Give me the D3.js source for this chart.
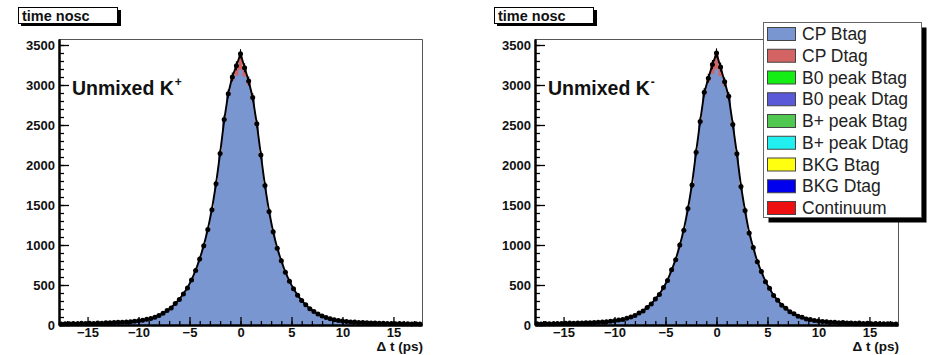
<!DOCTYPE html>
<html>
<head>
<meta charset="utf-8">
<script src="https://cdn.jsdelivr.net/npm/d3@7"></script>
<style>
  html, body { margin: 0; padding: 0; background: #fff; }
  svg { display: block; font-family: "Liberation Sans", Arial, Helvetica, sans-serif; }
</style>
</head>
<body>
<svg id="chart" width="931" height="355"></svg>
<script>
// ---------------- DATA ----------------
// 89 bins of 0.4 ps, centres from -17.6 to 17.6
const binCenters = d3.range(-44, 45).map(k => +(k * 0.4).toFixed(1));
const binWidth = 0.4;

const dataKplus = [
  14,17,15,19,16,21,18,22,20,25, 23,27,28,30,33,34,38,41,47,52,
  60,71,82,97,120,146,180,213,268,318, 388,462,562,682,824,992,1195,1440,1765,2145,
  2570,2890,3100,3240, 3390,
  3215,3050,2845,2515,2125, 1745,1420,1165,958,802, 660,548,452,372,306,
  252,204,170,138,113, 94,77,67,56,50, 45,39,36,32,30,
  29,25,26,22,23, 19,20,17,18,15, 16,14,15,13
];
const cpBtagKplus = [
  15,16,16,17,18,19,20,21,22,23, 24,26,27,29,31,33,36,40,45,51,
  59,70,82,98,119,146,179,218,266,322, 390,466,563,683,825,995,1198,1448,1765,2135,
  2545,2870,3055,3120, 3190,
  3105,3000,2815,2500,2115, 1740,1420,1163,960,800, 662,548,452,373,306,
  251,205,168,138,114, 94,78,66,57,50, 44,39,35,32,30,
  28,26,24,23,21, 20,19,18,17,16, 15,15,14,14
];
const cpDtagKplus = [
  0,0,0,0,0,0,0,0,0,0, 0,0,0,0,0,0,0,0,0,0,
  0,0,0,0,0,0,0,0,0,0, 0,0,0,0,0,0,0,0,0,10,
  15,25,50,120, 200,
  115,50,25,15,10, 0,0,0,0,0, 0,0,0,0,0,
  0,0,0,0,0, 0,0,0,0,0, 0,0,0,0,0,
  0,0,0,0,0, 0,0,0,0,0, 0,0,0,0
];

const dataKminus = [
  16,14,18,15,17,20,19,21,24,22, 26,25,29,28,32,35,37,42,46,53,
  61,69,84,99,118,149,176,220,262,325, 382,470,556,690,815,1000,1185,1455,1750,2160,
  2545,2910,3085,3255, 3400,
  3225,3040,2860,2505,2140, 1730,1430,1150,970,790, 670,540,458,368,310,
  246,208,166,141,110, 96,75,68,55,51, 44,40,34,33,29,
  30,26,25,22,24, 19,21,17,18,16, 15,16,13,14
];
const cpBtagKminus = [
  15,16,17,17,18,19,20,21,22,23, 25,26,28,29,31,34,37,41,46,52,
  60,70,83,99,120,147,178,218,265,323, 388,466,562,685,820,995,1195,1450,1760,2150,
  2535,2880,3040,3140, 3200,
  3110,2990,2830,2490,2130, 1735,1425,1155,965,795, 665,545,455,370,307,
  250,206,168,139,113, 94,77,66,56,50, 44,39,35,32,30,
  28,26,24,23,21, 20,19,18,17,16, 15,15,14,14
];
const cpDtagKminus = [
  0,0,0,0,0,0,0,0,0,0, 0,0,0,0,0,0,0,0,0,0,
  0,0,0,0,0,0,0,0,0,0, 0,0,0,0,0,0,0,0,0,10,
  15,25,45,115, 195,
  110,50,25,15,10, 0,0,0,0,0, 0,0,0,0,0,
  0,0,0,0,0, 0,0,0,0,0, 0,0,0,0,0,
  0,0,0,0,0, 0,0,0,0,0, 0,0,0,0
];

const xTicks = [-15, -10, -5, 0, 5, 10, 15];
const yTicks = [0, 500, 1000, 1500, 2000, 2500, 3000, 3500];
const xDomain = [-17.8, 17.8];
const yDomain = [0, 3575];

const panelTitle = "time nosc";
const panelLabels = [["Unmixed K", "+"], ["Unmixed K", "-"]];
const xAxisTitle = "\u0394 t (ps)";

const legendLabels = ["CP Btag", "CP Dtag", "B0 peak Btag", "B0 peak Dtag",
  "B+ peak Btag", "B+ peak Dtag", "BKG Btag", "BKG Dtag", "Continuum"];
const legendColors = ["#7a96d0", "#d46464", "#14ee14", "#5a5ad8",
  "#50c850", "#22f0f0", "#ffff10", "#0000ee", "#ee1010"];

// ---------------- DRAW ----------------
const svg = d3.select("#chart");

const panels = [
  { dx: 0, data: dataKplus, cpB: cpBtagKplus, cpD: cpDtagKplus, label: panelLabels[0] },
  { dx: 476, data: dataKminus, cpB: cpBtagKminus, cpD: cpDtagKminus, label: panelLabels[1] }
];

const frame = { left: 59, right: 422, top: 39, bottom: 325 };

panels.forEach(p => {
  const g = svg.append("g").attr("transform", `translate(${p.dx},0)`);
  const x = d3.scaleLinear().domain(xDomain).range([frame.left, frame.right]);
  const y = d3.scaleLinear().domain(yDomain).range([frame.bottom, frame.top]);

  // title box
  const tb = g.append("g");
  tb.append("rect").attr("x", 21).attr("y", 10).attr("width", 100).attr("height", 16).attr("fill", "#000");
  tb.append("rect").attr("x", 18.5).attr("y", 7.5).attr("width", 99).attr("height", 16)
    .attr("fill", "#fff").attr("stroke", "#000").attr("stroke-width", 1);
  tb.append("text").attr("x", 22).attr("y", 20.5).attr("font-size", 14.5).attr("font-weight", "bold")
    .attr("fill", "#111").text(panelTitle);

  // frame (top & right)
  g.append("path")
    .attr("d", `M${frame.left},${frame.top + 0.5}H${frame.right + 0.5}V${frame.bottom}`)
    .attr("fill", "none").attr("stroke", "#555").attr("stroke-width", 1);

  // stacked histogram (step)
  function stepPts(vals) {
    const pts = [];
    vals.forEach((v, i) => {
      pts.push([binCenters[i] - binWidth / 2, v]);
      pts.push([binCenters[i] + binWidth / 2, v]);
    });
    return pts;
  }
  const totals = p.cpB.map((v, i) => v + p.cpD[i]);
  const area0 = d3.area().x(d => x(d[0])).y0(y(0)).y1(d => y(d[1]));
  g.append("path").attr("d", area0(stepPts(totals))).attr("fill", legendColors[1]);
  g.append("path").attr("d", area0(stepPts(p.cpB))).attr("fill", legendColors[0]);

  // fit line (total)
  const line = d3.line().x((d, i) => x(binCenters[i])).y(d => y(d));
  g.append("path").attr("d", line(totals)).attr("fill", "none")
    .attr("stroke", "#000").attr("stroke-width", 1.9);

  // data points with errors
  const pts = g.append("g");
  p.data.forEach((v, i) => {
    const cx = x(binCenters[i]);
    const e = Math.sqrt(v);
    pts.append("line").attr("x1", cx).attr("x2", cx).attr("y1", y(v - e)).attr("y2", y(v + e))
      .attr("stroke", "#000").attr("stroke-width", 1.1);
    pts.append("line").attr("x1", x(binCenters[i] - binWidth / 2)).attr("x2", x(binCenters[i] + binWidth / 2))
      .attr("y1", y(v)).attr("y2", y(v)).attr("stroke", "#000").attr("stroke-width", 1.1);
    pts.append("circle").attr("cx", cx).attr("cy", y(v)).attr("r", 2.5).attr("fill", "#000");
  });

  // axes
  const yMinor = d3.range(0, 3600, 100);
  const xMinor = d3.range(-17, 18, 1);
  const yAxisMinor = d3.axisLeft(y).tickValues(yMinor).tickSizeInner(-5).tickSizeOuter(0).tickFormat("");
  const yAxis = d3.axisLeft(y).tickValues(yTicks).tickSizeInner(-10).tickSizeOuter(0).tickPadding(4)
    .tickFormat(d3.format("d"));
  const xAxisMinor = d3.axisBottom(x).tickValues(xMinor).tickSizeInner(-4).tickSizeOuter(0).tickFormat("");
  const xAxis = d3.axisBottom(x).tickValues(xTicks).tickSizeInner(-8).tickSizeOuter(0).tickPadding(4)
    .tickFormat(d3.format("d"));

  function style(sel) {
    sel.selectAll("path.domain").attr("stroke", "#000").attr("stroke-width", 2);
    sel.selectAll(".tick line").attr("stroke", "#000").attr("stroke-width", 1.3);
    sel.selectAll(".tick text").attr("font-size", 13).attr("font-weight", "bold")
      .attr("fill", "#111").attr("font-family", "Liberation Sans, Arial, sans-serif");
  }
  g.append("g").attr("transform", `translate(${frame.left},0)`).call(yAxisMinor).call(style);
  g.append("g").attr("transform", `translate(${frame.left},0)`).call(yAxis).call(style);
  g.append("g").attr("transform", `translate(0,${frame.bottom})`).call(xAxisMinor).call(style);
  const xa = g.append("g").attr("transform", `translate(0,${frame.bottom})`).call(xAxis).call(style);
  xa.selectAll(".tick text").attr("dy", "0.6em");

  g.append("text").attr("x", frame.right + 1).attr("y", 351).attr("text-anchor", "end")
    .attr("font-size", 13.5).attr("font-weight", "bold").attr("fill", "#111").text(xAxisTitle);

  // label
  const lt = g.append("text").attr("x", 72).attr("y", 95).attr("font-size", 19.5)
    .attr("font-weight", "bold").attr("fill", "#111");
  lt.append("tspan").text(p.label[0]);
  lt.append("tspan").attr("dy", -9).attr("dx", 1).attr("font-size", 12).text(p.label[1]);
});

// legend
const lg = svg.append("g");
const L = { x: 763.5, y: 22.5, w: 158, h: 195 };
lg.append("rect").attr("x", L.x + 5).attr("y", L.y + 5).attr("width", L.w).attr("height", L.h).attr("fill", "#000");
lg.append("rect").attr("x", L.x).attr("y", L.y).attr("width", L.w).attr("height", L.h)
  .attr("fill", "#fff").attr("stroke", "#666").attr("stroke-width", 1);
const rowY = d3.scaleLinear().domain([0, legendLabels.length - 1]).range([34, 208]);
legendLabels.forEach((lab, i) => {
  const cy = rowY(i);
  lg.append("rect").attr("x", 767.5).attr("y", cy - 6.5).attr("width", 28).attr("height", 13)
    .attr("fill", legendColors[i]).attr("stroke", "#444").attr("stroke-width", 1);
  lg.append("text").attr("x", 802).attr("y", cy + 6).attr("font-size", 17.5).attr("fill", "#222").text(lab);
});
</script>
</body>
</html>
